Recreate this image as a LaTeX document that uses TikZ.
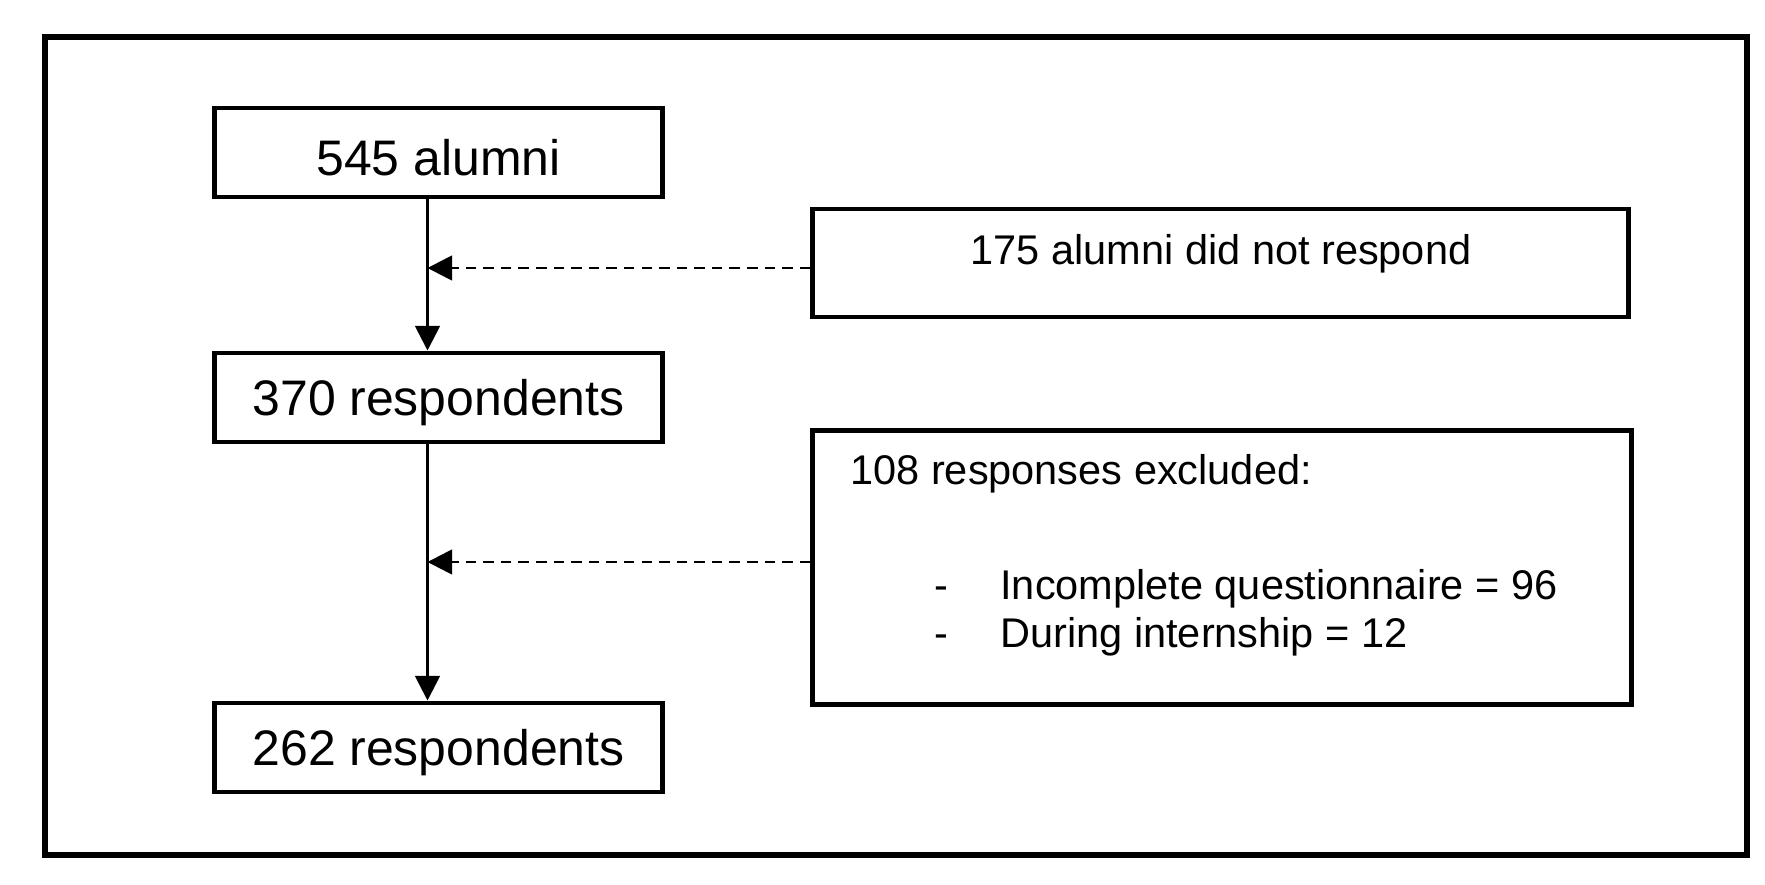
\documentclass[tikz,border=0pt]{standalone}
\usepackage{fontspec}
\setmainfont{Liberation Sans}
\usetikzlibrary{arrows.meta}
\begin{document}
\begin{tikzpicture}[x=0.01cm,y=-0.01cm,
 box/.style={draw,line width=1.4pt,inner sep=0pt},
 big/.style={font=\fontsize{14.2}{17}\selectfont},
 small/.style={font=\fontsize{11.8}{14}\selectfont},
 arr/.style={line width=0.8pt,-{Triangle[length=7pt,width=7pt]}},
 darr/.style={line width=0.8pt,dashed,dash pattern=on 3pt off 2pt,-{Triangle[length=7pt,width=7pt]}}]
\useasboundingbox (0,0) rectangle (1765,885);
\draw[line width=1.6pt] (45,37) rectangle (1747,855);
\node[box,minimum width=4.47cm,minimum height=0.89cm] (a) at (438.5,152.5) {};
\node[big] (ta) at (438.5,158) {545 alumni};
\node[box,minimum width=4.47cm,minimum height=0.89cm] (b) at (438.5,397.5) {};
\node[big] (tb) at (438.5,403) {370 respondents};
\node[box,minimum width=4.47cm,minimum height=0.89cm] (c) at (438.5,747.5) {};
\node[big] (tc) at (438.5,753) {262 respondents};
\node[box,minimum width=8.15cm,minimum height=1.08cm] (r1) at (1220.5,263) {};
\node[small] (t1) at (1221,254) {175 alumni did not respond};
\node[box,minimum width=8.18cm,minimum height=2.73cm] (r2) at (1222,567.5) {};
\node[small,anchor=base west] (t2) at (838,485) {108 responses excluded:};
\node[small,anchor=base west] (d1) at (922,600) {-};
\node[small,anchor=base west] (t3) at (988,600) {Incomplete questionnaire = 96};
\node[small,anchor=base west] (d2) at (922,648) {-};
\node[small,anchor=base west] (t4) at (988,648) {During internship = 12};
\draw[arr] (a.south -| 427.5,0) -- (b.north -| 427.5,0);
\draw[arr] (b.south -| 427.5,0) -- (c.north -| 427.5,0);
\coordinate (p1) at (427.5,268);
\coordinate (p2) at (427.5,562);
\draw[darr] (r1.west |- p1) -- (p1);
\draw[darr] (r2.west |- p2) -- (p2);
\end{tikzpicture}
\end{document}
